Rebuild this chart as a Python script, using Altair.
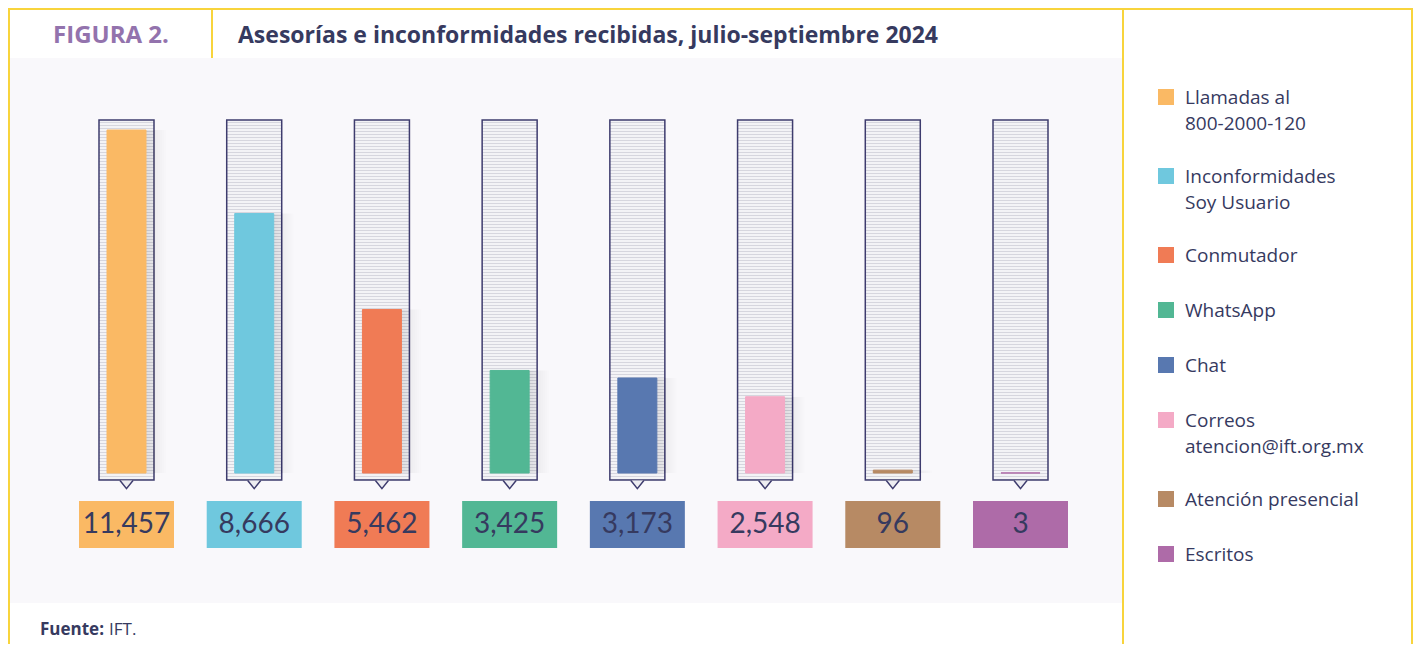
import altair as alt
import pandas as pd

# ---------------- data ----------------
categories = [
    "Llamadas al 800-2000-120",
    "Inconformidades Soy Usuario",
    "Conmutador",
    "WhatsApp",
    "Chat",
    "Correos atencion@ift.org.mx",
    "Atención presencial",
    "Escritos",
]
legend_labels = [
    "Llamadas al\n800-2000-120",
    "Inconformidades\nSoy Usuario",
    "Conmutador",
    "WhatsApp",
    "Chat",
    "Correos\natencion@ift.org.mx",
    "Atención presencial",
    "Escritos",
]
values = [11457, 8666, 5462, 3425, 3173, 2548, 96, 3]
colors = ["#fab964", "#6fc8de", "#f07b55", "#52b794", "#5878b0", "#f4aac6", "#b78a64", "#ae6ba8"]

title_text = "Asesorías e inconformidades recibidas, julio-septiembre 2024"
figure_text = "FIGURA 2."

# ---------------- style / layout ----------------
W, H = 1405, 636
NAVY = "#363a5f"
BOX = "#3e3c6e"
YELLOW = "#f8d43c"
PANEL = "#f9f8fb"
FONT = "Lato"
FONT2 = "Open Sans"

df = pd.DataFrame({"category": categories, "value": values})

color_scale = alt.Scale(domain=categories, range=colors)
x_enc = alt.X("category:N", sort=categories, axis=None,
              scale=alt.Scale(type="point", domain=categories, range=[118.5, 1012.5], padding=0))
y_enc = alt.Y("value:Q", axis=None,
              scale=alt.Scale(domain=[0, max(values)], range=[465, 122], nice=False, zero=True))

# striped fill for the "tube" boxes (3px period over a 360px box)
n = 120
stops = []
for i in range(n):
    a = i / n
    b = (i + 2 / 3) / n
    c = (i + 1) / n
    stops += [
        {"offset": a, "color": "#f3f3f6"},
        {"offset": b, "color": "#f3f3f6"},
        {"offset": b, "color": "#d6d6de"},
        {"offset": c, "color": "#d6d6de"},
    ]
stripe = {"gradient": "linear", "x1": 0, "y1": 0, "x2": 0, "y2": 1, "stops": stops}

one = alt.Data(values=[{}])


def rect(x, x2, y, y2, color):
    return alt.Chart(one).mark_rect(color=color).encode(
        x=alt.value(x), x2=alt.value(x2), y=alt.value(y), y2=alt.value(y2))


def line(x, x2, y, y2):
    return alt.Chart(one).mark_rule(color=YELLOW, strokeWidth=2).encode(
        x=alt.value(x), x2=alt.value(x2), y=alt.value(y), y2=alt.value(y2))


def label(txt, x, y, size, weight="normal", color=NAVY, align="left", font=FONT2):
    return alt.Chart(one).mark_text(
        text=txt, font=font, fontSize=size, fontWeight=weight, color=color,
        align=align, baseline="alphabetic").encode(x=alt.value(x), y=alt.value(y))


decor = [
    rect(1, 1114, 50, 595, PANEL),
    line(0, 1405, 1, 1),
    line(1, 1, 0, H),
    line(1404, 1404, 0, H),
    line(1115, 1115, 0, H),
    line(204, 204, 0, 50),
    label(figure_text, 103, 35, 24, "bold", "#9373ad", "center"),
    label(title_text, 230, 35, 23, "bold"),
    label("Fuente:", 32, 627, 17, "bold"),
    label("IFT.", 101, 627, 17),
]

base = alt.Chart(df)

boxes = base.mark_bar(size=55, fill=stripe, stroke=BOX, strokeWidth=1.5).encode(
    x=x_enc, y=alt.value(112), y2=alt.value(472))

# soft shadow to the right of every coloured bar
shadows = [
    base.mark_bar(size=39 + 2 * o, xOffset=o, color="#000000", opacity=0.008).encode(
        x=x_enc, y=y_enc, y2=alt.datum(0))
    for o in range(1, 11)
]

bars = base.mark_bar(size=39, strokeWidth=1).encode(
    x=x_enc, y=y_enc, y2=alt.datum(0),
    color=alt.Color("category:N", scale=color_scale, legend=None),
    stroke=alt.Stroke("category:N", scale=color_scale, legend=None))

pointers = base.mark_point(shape="M-1,0L0,1.25L1,0", size=169, filled=True,
                           fill="#ededf1", stroke=BOX, strokeWidth=1.5, opacity=1).encode(
    x=x_enc, y=alt.value(472.5))

value_boxes = base.mark_bar(size=95).encode(
    x=x_enc, y=alt.value(493), y2=alt.value(540),
    color=alt.Color("category:N", scale=color_scale, legend=None))

value_text = base.mark_text(font=FONT, fontSize=28, color=NAVY, baseline="middle").encode(
    x=x_enc, y=alt.value(517), text=alt.Text("value:Q", format=","))

bar_layer = alt.layer(boxes, *shadows, bars, pointers, value_boxes, value_text)

# ---------------- legend (manual, to keep multi-line spacing) ----------------
ly = []
rows = []
cur = 89
for cat, lab in zip(categories, legend_labels):
    ly.append(cur)
    for k, part in enumerate(lab.split("\n")):
        rows.append({"line": part, "ty": cur + 7 + 26 * k})
    cur += 55 + 24 * (lab.count("\n"))
leg_df = pd.DataFrame({"category": categories, "ly": ly})
txt_df = pd.DataFrame(rows)

leg_sq = alt.Chart(leg_df).mark_square(size=256, opacity=1).encode(
    x=alt.value(1158), y=alt.Y("ly:Q", scale=None, axis=None),
    color=alt.Color("category:N", scale=color_scale, legend=None))
leg_tx = alt.Chart(txt_df).mark_text(align="left", baseline="alphabetic",
                                     font=FONT2, fontSize=19, color=NAVY).encode(
    x=alt.value(1177), y=alt.Y("ty:Q", scale=None, axis=None), text="line:N")
legend_layer = alt.layer(leg_sq, leg_tx)

chart = alt.layer(*decor, bar_layer, legend_layer).resolve_scale(
    y="independent", x="independent"
).properties(
    width=W, height=H, padding=0, autosize=alt.AutoSizeParams(type="none"),
    background="white"
).configure_view(stroke=None)

chart.save("out.html", embed_options={"renderer": "svg", "actions": False})
